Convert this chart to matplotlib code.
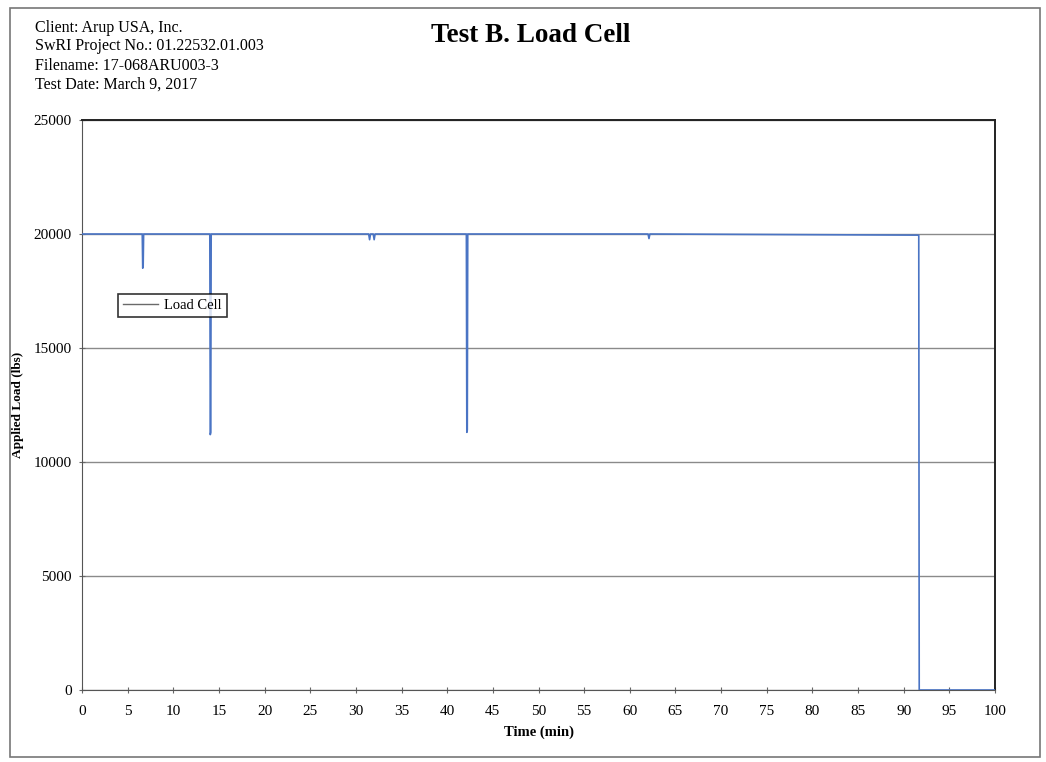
import matplotlib
matplotlib.use("Agg")
import matplotlib.pyplot as plt
from matplotlib.patches import Rectangle

plt.rcParams['font.family'] = ['Liberation Serif', 'DejaVu Serif']

# Data (time in min, load in lbs)
time_min = [0, 6.6, 6.65, 6.7, 6.75, 14.0, 14.05, 14.1, 14.15, 31.4, 31.5, 31.6,
            31.9, 32.0, 32.1, 42.1, 42.15, 42.2, 42.25, 62.0, 62.1, 62.2,
            91.6, 91.65, 91.7, 100]
load_lbs = [20000, 20000, 18500, 18600, 20000, 20000, 11200, 11300, 20000, 20000, 19750, 20000,
            20000, 19750, 20000, 20000, 11300, 11400, 20000, 20000, 19800, 20000,
            19950, 19950, 0, 0]
x_ticks = list(range(0, 101, 5))
y_ticks = [0, 5000, 10000, 15000, 20000, 25000]

title = "Test B. Load Cell"
header = ["Client: Arup USA, Inc.", "SwRI Project No.: 01.22532.01.003",
          "Filename: 17-068ARU003-3", "Test Date: March 9, 2017"]

fig = plt.figure(figsize=(10.46, 7.62), dpi=100)
fig.patches.append(Rectangle((10/1046, 1-757/762), 1030/1046, 749/762,
                             transform=fig.transFigure, fill=False,
                             edgecolor='#777777', linewidth=1.2))

ax = fig.add_axes([82/1046, 1-690/762, 913/1046, 570/762])
ax.plot(time_min, load_lbs, color='#4a74c4', linewidth=1.2, label='Load Cell', zorder=3)
ax.set_xlim(0, 100)
ax.set_ylim(0, 25000)
ax.set_xticks(x_ticks)
ax.set_yticks(y_ticks)
ax.tick_params(axis='both', labelsize=11, length=5, direction='inout', color='#666666')
ax.tick_params(axis='x', pad=8)
ax.tick_params(axis='y', pad=5)
ax.yaxis.grid(True, color='#8a8a8a', linewidth=1.0)
ax.set_axisbelow(True)
for side in ['left', 'bottom']:
    ax.spines[side].set_color('#555555')
for side in ['top', 'right']:
    ax.spines[side].set_color('#222222')
    ax.spines[side].set_linewidth(1.4)
ax.set_xlabel('Time (min)', fontsize=10.5, fontweight='bold', labelpad=6)
ax.set_ylabel('Applied Load (lbs)', fontsize=9.5, fontweight='bold', labelpad=7)

leg = ax.legend(loc='upper left', bbox_to_anchor=(36/913, (690-294)/570), fontsize=10.5,
                frameon=True, fancybox=False, edgecolor='black', handlelength=2.4,
                borderpad=0.35, borderaxespad=0, handletextpad=0.4)
leg.get_frame().set_linewidth(1.2)
leg.get_lines()[0].set_color('#6a6a6a')
leg.get_lines()[0].set_linewidth(1.0)

fig.text(531/1046, 1-35/762, title, ha='center', va='center', fontsize=19.5, fontweight='bold')
ys = [28, 46, 66, 85]
for yy, line in zip(ys, header):
    fig.text(35/1046, 1-yy/762, line, ha='left', va='center', fontsize=11.5)

fig.savefig('out.png', dpi=100)
